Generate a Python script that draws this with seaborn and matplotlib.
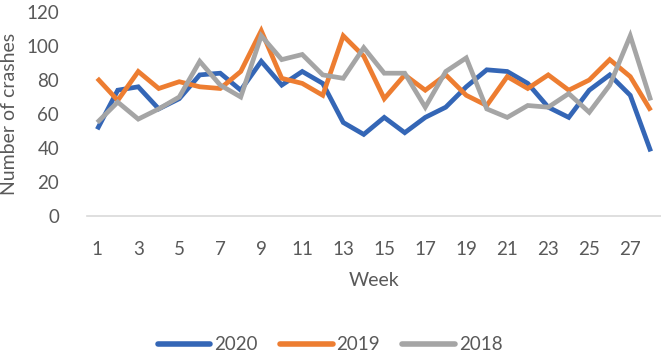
import numpy as np
import pandas as pd
import matplotlib
matplotlib.use("Agg")
import matplotlib.pyplot as plt
import seaborn as sns

weeks = list(range(1, 29))
y2020 = [51, 74, 76, 63, 69, 83, 84, 74, 91, 77, 85, 78, 55, 48, 58, 49, 58, 64, 76, 86, 85, 78, 64, 58, 74, 83, 71, 38]
y2019 = [81, 68, 85, 75, 79, 76, 75, 85, 109, 81, 78, 71, 106, 94, 69, 83, 74, 83, 71, 65, 82, 75, 83, 74, 80, 92, 82, 62]
y2018 = [55, 67, 57, 63, 70, 91, 77, 70, 106, 92, 95, 83, 81, 99, 84, 84, 64, 85, 93, 63, 58, 65, 64, 72, 61, 77, 106, 68]
series_names = ["2020", "2019", "2018"]
colors = ["#3466B6", "#ED7D31", "#A5A5A5"]
x_ticks = list(range(1, 29, 2))
y_ticks = [0, 20, 40, 60, 80, 100, 120]

df = pd.DataFrame({
    "Week": weeks * 3,
    "Crashes": y2020 + y2019 + y2018,
    "Year": [series_names[0]] * 28 + [series_names[1]] * 28 + [series_names[2]] * 28,
})

sns.set_style("white")
plt.rcParams["font.family"] = ["Lato", "DejaVu Sans"]
text_color = "#595959"

fig = plt.figure(figsize=(6.61, 3.58), dpi=100)
ax = fig.add_axes([87 / 661, 1 - 216 / 358, 1 - 87 / 661, (216 - 12) / 358])

sns.lineplot(data=df, x="Week", y="Crashes", hue="Year", hue_order=series_names,
             palette=colors, linewidth=3.4, ax=ax, legend=False)

ax.set_xlim(0.5, 28.5)
ax.set_ylim(0, 120)
ax.set_xticks(x_ticks)
ax.set_xticklabels([str(t) for t in x_ticks])
ax.set_yticks(y_ticks)
ax.tick_params(axis="both", length=0, labelsize=13.5, labelcolor=text_color)
ax.tick_params(axis="y", pad=20)
ax.tick_params(axis="x", pad=18)
for s in ["top", "right", "left"]:
    ax.spines[s].set_visible(False)
ax.spines["bottom"].set_color("#D9D9D9")
ax.spines["bottom"].set_linewidth(1.2)
for line in ax.lines:
    line.set_solid_capstyle("butt")
    line.set_solid_joinstyle("miter")
    line.set_clip_on(False)

ax.set_xlabel("Week", fontsize=14, color=text_color, labelpad=10)
ax.set_ylabel("Number of crashes", fontsize=14, color=text_color, labelpad=6)

from matplotlib.lines import Line2D
handles = [Line2D([0], [0], color=c, linewidth=4, solid_capstyle="round") for c in colors]
fig.legend(handles, series_names, loc="center", bbox_to_anchor=(330 / 661, 1 - 345 / 358),
           ncol=3, frameon=False, fontsize=13.5, handlelength=2.8, handletextpad=0.2,
           columnspacing=1.2, labelcolor=text_color)

fig.savefig("out.png", dpi=100)
